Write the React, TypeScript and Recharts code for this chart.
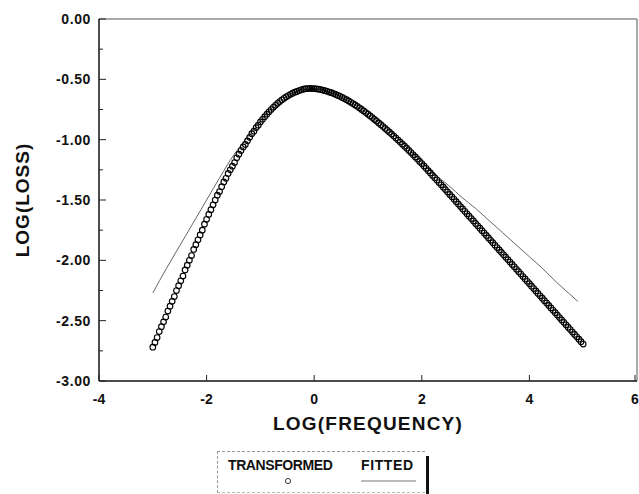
import React from 'react'
import { ComposedChart, Scatter, Line, XAxis, YAxis, ReferenceLine, Legend } from 'recharts'

// log(frequency) grid of the transformed points
const logFrequency = [
  -3, -2.96, -2.92, -2.88, -2.84, -2.8, -2.76, -2.72, -2.68, -2.64, -2.6, -2.56, -2.52, -2.48, -2.44, -2.4, -2.36, -2.32, -2.28, -2.24, -2.2, -2.16, -2.12, -2.08, -2.04,
  -2, -1.96, -1.92, -1.88, -1.84, -1.8, -1.76, -1.72, -1.68, -1.64, -1.6, -1.56, -1.52, -1.48, -1.44, -1.4, -1.36, -1.32, -1.28, -1.24, -1.2, -1.16, -1.12, -1.08, -1.04,
  -1, -0.96, -0.92, -0.88, -0.84, -0.8, -0.76, -0.72, -0.68, -0.64, -0.6, -0.56, -0.52, -0.48, -0.44, -0.4, -0.36, -0.32, -0.28, -0.24, -0.2, -0.16, -0.12, -0.08, -0.04,
  0, 0.04, 0.08, 0.12, 0.16, 0.2, 0.24, 0.28, 0.32, 0.36, 0.4, 0.44, 0.48, 0.52, 0.56, 0.6, 0.64, 0.68, 0.72, 0.76, 0.8, 0.84, 0.88, 0.92, 0.96,
  1, 1.04, 1.08, 1.12, 1.16, 1.2, 1.24, 1.28, 1.32, 1.36, 1.4, 1.44, 1.48, 1.52, 1.56, 1.6, 1.64, 1.68, 1.72, 1.76, 1.8, 1.84, 1.88, 1.92, 1.96,
  2, 2.04, 2.08, 2.12, 2.16, 2.2, 2.24, 2.28, 2.32, 2.36, 2.4, 2.44, 2.48, 2.52, 2.56, 2.6, 2.64, 2.68, 2.72, 2.76, 2.8, 2.84, 2.88, 2.92, 2.96,
  3, 3.04, 3.08, 3.12, 3.16, 3.2, 3.24, 3.28, 3.32, 3.36, 3.4, 3.44, 3.48, 3.52, 3.56, 3.6, 3.64, 3.68, 3.72, 3.76, 3.8, 3.84, 3.88, 3.92, 3.96,
  4, 4.04, 4.08, 4.12, 4.16, 4.2, 4.24, 4.28, 4.32, 4.36, 4.4, 4.44, 4.48, 4.52, 4.56, 4.6, 4.64, 4.68, 4.72, 4.76, 4.8, 4.84, 4.88, 4.92, 4.96,
  5,
]

const transformedLoss = [
  -2.72, -2.68, -2.64, -2.59, -2.55, -2.51, -2.47, -2.42, -2.38, -2.34, -2.3, -2.25, -2.21, -2.17, -2.13, -2.08, -2.04, -2.0, -1.96, -1.91, -1.87, -1.83, -1.79, -1.75, -1.7,
  -1.66, -1.62, -1.58, -1.54, -1.5, -1.46, -1.43, -1.39, -1.35, -1.32, -1.28, -1.25, -1.22, -1.19, -1.15, -1.12, -1.09, -1.06, -1.04, -1.01, -0.98, -0.95, -0.93, -0.9, -0.88,
  -0.853, -0.831, -0.81, -0.789, -0.769, -0.75, -0.732, -0.715, -0.699, -0.684, -0.67, -0.657, -0.645, -0.634, -0.624, -0.615, -0.607, -0.6, -0.593, -0.587, -0.582, -0.578, -0.576, -0.575, -0.576,
  -0.577, -0.579, -0.582, -0.585, -0.589, -0.594, -0.599, -0.605, -0.611, -0.618, -0.625, -0.633, -0.641, -0.65, -0.659, -0.669, -0.679, -0.69, -0.701, -0.712, -0.724, -0.736, -0.749, -0.762, -0.775,
  -0.789, -0.803, -0.817, -0.832, -0.846, -0.861, -0.876, -0.891, -0.907, -0.922, -0.938, -0.954, -0.97, -0.987, -1.003, -1.02, -1.037, -1.054, -1.071, -1.089, -1.107, -1.125, -1.143, -1.161, -1.18,
  -1.198, -1.218, -1.237, -1.257, -1.276, -1.296, -1.315, -1.335, -1.355, -1.374, -1.394, -1.414, -1.434, -1.454, -1.474, -1.494, -1.514, -1.534, -1.554, -1.574, -1.594, -1.614, -1.634, -1.654, -1.674,
  -1.694, -1.714, -1.734, -1.754, -1.774, -1.794, -1.814, -1.834, -1.854, -1.874, -1.894, -1.914, -1.934, -1.954, -1.974, -1.994, -2.014, -2.034, -2.054, -2.074, -2.094, -2.114, -2.134, -2.154, -2.174,
  -2.194, -2.214, -2.234, -2.254, -2.274, -2.294, -2.314, -2.334, -2.354, -2.374, -2.394, -2.414, -2.434, -2.454, -2.474, -2.494, -2.514, -2.534, -2.554, -2.574, -2.594, -2.614, -2.634, -2.654, -2.674,
  -2.694,
]

const fittedFrequency = [
  -3, -2.75, -2.5, -2.25, -2, -1.75, -1.5, -1.25, -1, -0.75, -0.5, -0.25, 0, 0.25, 0.5, 0.75,
  1, 1.25, 1.5, 1.75, 2, 2.25, 2.5, 2.75, 3, 3.25, 3.5, 3.75, 4, 4.25, 4.5, 4.75, 4.9,
]
const fittedLoss = [
  -2.27, -2.07, -1.88, -1.69, -1.5, -1.31, -1.13, -0.985, -0.845, -0.725, -0.64, -0.588, -0.577, -0.6, -0.645, -0.71,
  -0.79, -0.875, -0.97, -1.08, -1.19, -1.29, -1.38, -1.48, -1.57, -1.67, -1.77, -1.87, -1.97, -2.07, -2.18, -2.28, -2.34,
]

const xTicks = [-4, -2, 0, 2, 4, 6]
const yTicks = [-3, -2.75, -2.5, -2.25, -2, -1.75, -1.5, -1.25, -1, -0.75, -0.5, -0.25, 0]

const transformedData = logFrequency.map((x, i) => ({ x, y: transformedLoss[i] }))
const fittedData = fittedFrequency.map((x, i) => ({ x, y: fittedLoss[i] }))

const FONT = 'Arial, "Liberation Sans", Helvetica, sans-serif'

function LossTick({ x, y, payload }: any) {
  const v = payload.value
  const major = Math.abs(v * 2 - Math.round(v * 2)) < 1e-6
  return (
    <g>
      <line x1={x + 8} x2={x + 8 + (major ? 7 : 4)} y1={y} y2={y} stroke="#222" />
      {major && (
        <text x={x} y={y} dy="0.36em" textAnchor="end" fontSize={14} fontWeight="bold" letterSpacing={0.6} fill="#111" fontFamily={FONT}>
          {v.toFixed(2)}
        </text>
      )}
    </g>
  )
}

function FreqTick({ x, y, payload }: any) {
  return (
    <g>
      <line x1={x} x2={x} y1={y - 13} y2={y - 19} stroke="#222" />
      <text x={x} y={y} dy="0.71em" textAnchor="middle" fontSize={14} fontWeight="bold" fill="#111" fontFamily={FONT}>
        {payload.value}
      </text>
    </g>
  )
}

function LossTitle({ viewBox }: any) {
  const cx = viewBox.x + 22
  const cy = viewBox.y + viewBox.height / 2
  return (
    <text x={cx} y={cy} transform={`rotate(-90, ${cx}, ${cy})`} textAnchor="middle" dominantBaseline="central"
      fontSize={19} fontWeight="bold" letterSpacing={1} fill="#111" fontFamily={FONT}>
      LOG(LOSS)
    </text>
  )
}

function FreqTitle({ viewBox }: any) {
  const cx = viewBox.x + viewBox.width / 2
  return (
    <text x={cx} y={viewBox.y + 49} textAnchor="middle" fontSize={19} fontWeight="bold" letterSpacing={1.2} fill="#111" fontFamily={FONT}>
      LOG(FREQUENCY)
    </text>
  )
}

const legendText: any = {
  TRANSFORMED: { left: 10, letterSpacing: -0.4 },
  FITTED: { left: 143, letterSpacing: 0.6 },
}

function LegendBox({ payload }: any) {
  return (
    <div style={{
      position: 'relative', width: 208, height: 42, boxSizing: 'border-box',
      borderTop: '1px dashed #999', borderLeft: '1px dashed #999', borderBottom: '1px dashed #bbb',
      fontFamily: FONT, background: '#fff',
    }}>
      {(payload || []).map((entry: any) => {
        const pos = legendText[entry.value] || { left: 10, letterSpacing: 0 }
        const isLine = entry.type === 'line'
        return (
          <div key={entry.value}>
            <span style={{
              position: 'absolute', left: pos.left, top: 6, fontSize: 14, lineHeight: '14px',
              fontWeight: 'bold', letterSpacing: pos.letterSpacing, color: '#111', whiteSpace: 'nowrap',
            }}>
              {entry.value}
            </span>
            {isLine ? (
              <svg style={{ position: 'absolute', left: 143, top: 26 }} width={56} height={6}>
                <line x1={0} x2={55} y1={3} y2={3} stroke="#777" strokeWidth={1} />
              </svg>
            ) : (
              <svg style={{ position: 'absolute', left: 65, top: 24 }} width={10} height={10}>
                <circle cx={5} cy={5} r={2.6} fill="none" stroke="#222" strokeWidth={0.9} />
              </svg>
            )}
          </div>
        )
      })}
      <div style={{ position: 'absolute', right: -4, top: 4, width: 3, height: 40, background: '#111' }} />
    </div>
  )
}

const RingDot = (props: any) => (
  <circle cx={props.cx} cy={props.cy} r={2.8} fill="none" stroke="#000" strokeWidth={1.15} />
)

export default function App() {
  return (
    <div style={{ position: 'absolute', left: 0, top: 0, width: 639, height: 494, background: '#fff' }}>
      <ComposedChart width={639} height={494} margin={{ top: 19, right: 2, bottom: 63, left: 0 }}>
        <XAxis
          dataKey="x"
          type="number"
          domain={[-4, 6]}
          ticks={xTicks}
          tickSize={0}
          tickMargin={13}
          height={50}
          axisLine={{ stroke: '#111', strokeWidth: 1.5 }}
          tickLine={false}
          tick={<FreqTick />}
          label={FreqTitle}
        />
        <YAxis
          dataKey="y"
          type="number"
          domain={[-3, 0]}
          ticks={yTicks}
          interval={0}
          tickSize={0}
          tickMargin={8}
          width={99}
          axisLine={{ stroke: '#111', strokeWidth: 1.5 }}
          tickLine={false}
          tick={<LossTick />}
          label={LossTitle}
        />
        <ReferenceLine y={0} stroke="#555" strokeWidth={1} ifOverflow="visible" />
        <ReferenceLine x={6} stroke="#555" strokeWidth={1} ifOverflow="visible" />
        <Scatter name="TRANSFORMED" data={transformedData} dataKey="y" shape={RingDot} legendType="circle" isAnimationActive={false} />
        <Line name="FITTED" data={fittedData} dataKey="y" type="monotone" stroke="#666" strokeWidth={1} dot={false} legendType="line" isAnimationActive={false} />
        <Legend
          layout="horizontal"
          verticalAlign="middle"
          align="center"
          content={LegendBox}
          wrapperStyle={{ left: 217, top: 451, width: 212, height: 43, margin: 0, padding: 0 }}
        />
      </ComposedChart>
    </div>
  )
}
